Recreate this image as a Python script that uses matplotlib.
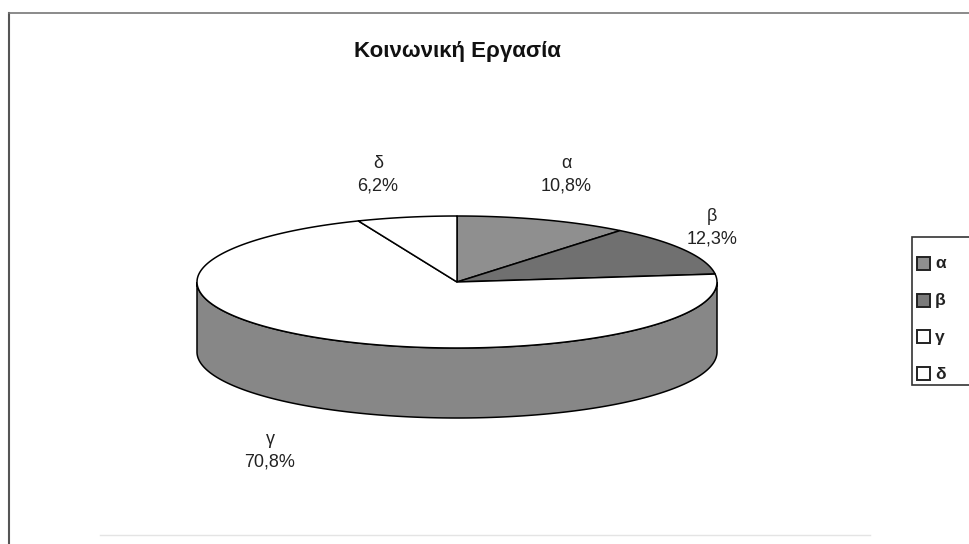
import numpy as np
import matplotlib
matplotlib.use('Agg')
import matplotlib.pyplot as plt
from matplotlib.patches import Polygon, Rectangle

plt.rcParams['font.family'] = ['Liberation Sans', 'DejaVu Sans']

# Data
title = 'Κοινωνική Εργασία'
labels = ['α', 'β', 'γ', 'δ']
shares = [10.8, 12.3, 70.8, 6.2]
top_colors = ['#8f8f8f', '#707070', '#ffffff', '#ffffff']
side_color = '#878787'

# Pie geometry in pixel space
cx, cy = 457, 282
rx, ry = 260, 66
depth = 70

fig = plt.figure(figsize=(9.69, 5.44), dpi=100)
ax = fig.add_axes([0, 0, 1, 1])
ax.set_xlim(0, 969)
ax.set_ylim(544, 0)
ax.axis('off')


def ellipse_pts(a0, a1, dy=0, n=200):
    t = np.radians(np.linspace(a0, a1, n))
    return np.column_stack([cx + rx * np.cos(t), cy - ry * np.sin(t) + dy])


fracs = np.array(shares) / sum(shares)
starts = 90 - 360 * np.concatenate([[0], np.cumsum(fracs)[:-1]])
ends = starts - 360 * fracs

# side walls (front half only: angles between -180 and 0)
for a_start, a_end in zip(starts, ends):
    for k in (-360, 0, 360):
        lo = max(a_end, -180 + k)
        hi = min(a_start, 0 + k)
        if hi > lo:
            top = ellipse_pts(hi, lo)
            bot = ellipse_pts(lo, hi, dy=depth)
            ax.add_patch(Polygon(np.vstack([top, bot]), closed=True,
                                 facecolor=side_color, edgecolor='black', lw=1.1))

# top faces
for a_start, a_end, col in zip(starts, ends, top_colors):
    arc = ellipse_pts(a_start, a_end)
    pts = np.vstack([[cx, cy], arc])
    ax.add_patch(Polygon(pts, closed=True, facecolor=col,
                         edgecolor='black', lw=1.1, joinstyle='round'))

# data labels
label_pos = [(566, 175), (712, 228), (270, 451), (378, 175)]
for lab, val, (x, y) in zip(labels, shares, label_pos):
    txt = f'{lab}\n{val:.1f}%'.replace('.', ',')
    ax.text(x, y, txt, ha='center', va='center', fontsize=13,
            linespacing=1.45, color='#222222')

ax.text(457, 52, title, ha='center', va='center', fontsize=16,
        fontweight='bold', color='#111111')

# chart frame
ax.plot([9, 9], [13, 544], color='#555555', lw=1.5)
ax.plot([9, 969], [13, 13], color='#777777', lw=1.2)
ax.plot([100, 870], [535, 535], color='#e4e4e4', lw=1)

# legend (cut by the right edge)
ax.add_patch(Rectangle((912, 237), 80, 148, facecolor='white',
                       edgecolor='#333333', lw=1.2, clip_on=True))
legend_fill = ['#8f8f8f', '#7a7a7a', '#ffffff', '#ffffff']
for i, (lab, col) in enumerate(zip(labels, legend_fill)):
    y = 264 + i * 36.7
    ax.add_patch(Rectangle((917, y - 7), 13, 13, facecolor=col,
                           edgecolor='#222222', lw=1.4))
    ax.text(935, y, lab, ha='left', va='center', fontsize=12.5,
            fontweight='bold', color='#222222')

fig.savefig('out.png', dpi=100)
